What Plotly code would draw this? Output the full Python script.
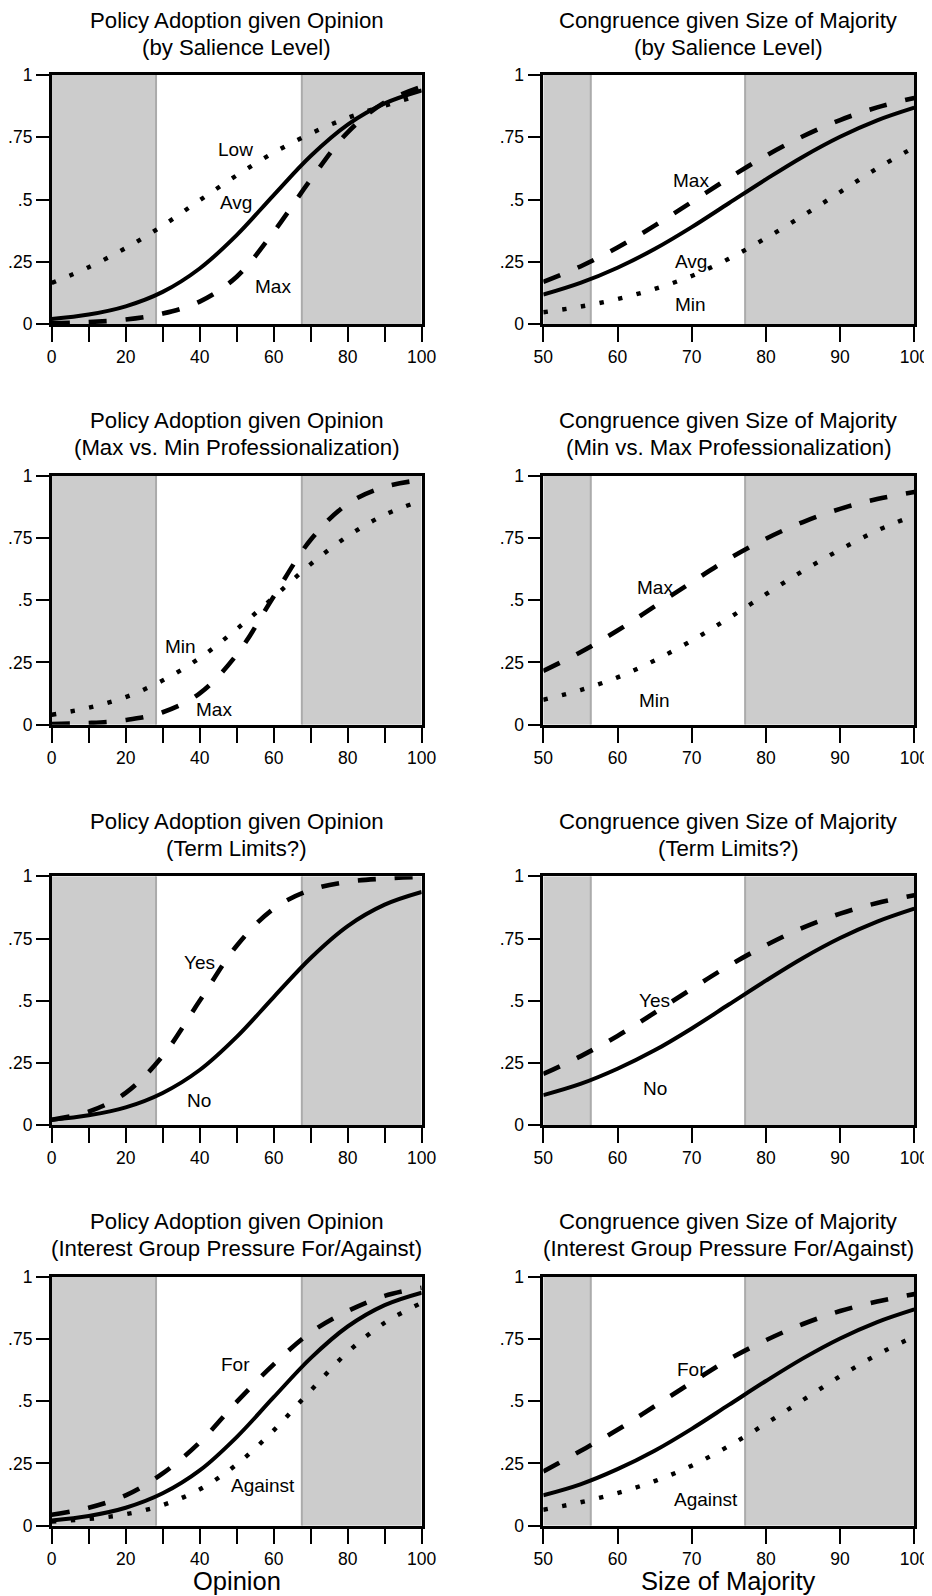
import plotly.graph_objects as go
from plotly.subplots import make_subplots

# ---------------- data ----------------
opinion_x = [0, 10, 20, 30, 40, 50, 60, 70, 80, 90, 100]
majority_x = [50, 55, 60, 65, 70, 75, 80, 85, 90, 95, 100]

# Panel 1: Policy adoption by salience
p1_avg = [0.020, 0.038, 0.071, 0.129, 0.223, 0.357, 0.518, 0.675, 0.801, 0.886, 0.938]
p1_low = [0.165, 0.228, 0.305, 0.395, 0.497, 0.597, 0.688, 0.765, 0.828, 0.877, 0.920]
p1_max = [0.003, 0.008, 0.018, 0.042, 0.090, 0.190, 0.370, 0.580, 0.770, 0.890, 0.953]

# Panel 2: Congruence by salience
p2_avg = [0.118, 0.165, 0.226, 0.301, 0.389, 0.485, 0.581, 0.672, 0.752, 0.818, 0.869]
p2_max = [0.169, 0.231, 0.307, 0.395, 0.490, 0.586, 0.676, 0.754, 0.819, 0.870, 0.908]
p2_min = [0.047, 0.070, 0.100, 0.141, 0.193, 0.262, 0.345, 0.435, 0.530, 0.625, 0.710]

# Panel 3: Policy adoption, professionalization
p3_max = [0.003, 0.007, 0.019, 0.050, 0.126, 0.281, 0.515, 0.743, 0.887, 0.955, 0.983]
p3_min = [0.040, 0.068, 0.111, 0.178, 0.268, 0.384, 0.512, 0.645, 0.757, 0.843, 0.900]

# Panel 4: Congruence, professionalization
p4_max = [0.216, 0.291, 0.378, 0.475, 0.572, 0.666, 0.747, 0.814, 0.867, 0.906, 0.935]
p4_min = [0.100, 0.139, 0.190, 0.258, 0.338, 0.428, 0.524, 0.618, 0.703, 0.780, 0.840]

# Panel 5: Policy adoption, term limits
p5_no = [0.022, 0.040, 0.072, 0.130, 0.222, 0.355, 0.515, 0.672, 0.800, 0.886, 0.937]
p5_yes = [0.022, 0.055, 0.130, 0.279, 0.500, 0.721, 0.870, 0.945, 0.978, 0.991, 0.997]

# Panel 6: Congruence, term limits
p6_no = [0.121, 0.166, 0.227, 0.301, 0.389, 0.485, 0.581, 0.672, 0.752, 0.818, 0.870]
p6_yes = [0.206, 0.277, 0.359, 0.452, 0.548, 0.641, 0.723, 0.794, 0.850, 0.893, 0.924]

# Panel 7: Policy adoption, interest groups
p7_mid = [0.021, 0.039, 0.072, 0.130, 0.222, 0.356, 0.516, 0.673, 0.800, 0.886, 0.936]
p7_for = [0.044, 0.072, 0.122, 0.210, 0.335, 0.497, 0.648, 0.776, 0.862, 0.923, 0.956]
p7_against = [0.017, 0.027, 0.046, 0.083, 0.146, 0.246, 0.383, 0.543, 0.697, 0.815, 0.895]

# Panel 8: Congruence, interest groups
p8_mid = [0.122, 0.166, 0.227, 0.301, 0.389, 0.485, 0.581, 0.672, 0.752, 0.818, 0.869]
p8_for = [0.218, 0.300, 0.385, 0.480, 0.575, 0.668, 0.745, 0.810, 0.862, 0.900, 0.930]
p8_against = [0.064, 0.094, 0.131, 0.179, 0.241, 0.320, 0.410, 0.505, 0.600, 0.687, 0.760]

# shaded (gray) regions
opinion_shade = [(0, 28.2), (67.6, 100)]
majority_shade = [(50, 56.4), (77.2, 100)]

left_titles = ["Policy Adoption given Opinion"] * 4
left_subtitles = ["(by Salience Level)", "(Max vs. Min Professionalization)",
                  "(Term Limits?)", "(Interest Group Pressure For/Against)"]
right_titles = ["Congruence given Size of Majority"] * 4
right_subtitles = ["(by Salience Level)", "(Min vs. Max Professionalization)",
                   "(Term Limits?)", "(Interest Group Pressure For/Against)"]

opinion_ticks = [0, 10, 20, 30, 40, 50, 60, 70, 80, 90, 100]
opinion_ticktext = ["0", "", "20", "", "40", "", "60", "", "80", "", "100"]
majority_ticks = [50, 60, 70, 80, 90, 100]
majority_ticktext = ["50", "60", "70", "80", "90", "100"]
y_ticks = [0, 0.25, 0.5, 0.75, 1]
y_ticktext = ["0", ".25", ".5", ".75", "1"]

# (panel index, x-data, y-data, style)
series = [
    (1, opinion_x, p1_low, "dot"), (1, opinion_x, p1_avg, "solid"), (1, opinion_x, p1_max, "dash"),
    (2, majority_x, p2_min, "dot"), (2, majority_x, p2_avg, "solid"), (2, majority_x, p2_max, "dash"),
    (3, opinion_x, p3_min, "dot"), (3, opinion_x, p3_max, "dash"),
    (4, majority_x, p4_min, "dot"), (4, majority_x, p4_max, "dash"),
    (5, opinion_x, p5_no, "solid"), (5, opinion_x, p5_yes, "dash"),
    (6, majority_x, p6_no, "solid"), (6, majority_x, p6_yes, "dash"),
    (7, opinion_x, p7_against, "dot"), (7, opinion_x, p7_mid, "solid"), (7, opinion_x, p7_for, "dash"),
    (8, majority_x, p8_against, "dot"), (8, majority_x, p8_mid, "solid"), (8, majority_x, p8_for, "dash"),
]

# curve labels: (panel, text, x, y)
curve_labels = [
    (1, "Low", 49.8, 0.70), (1, "Avg", 49.8, 0.486), (1, "Max", 59.9, 0.15),
    (2, "Max", 69.9, 0.577), (2, "Avg", 69.9, 0.252), (2, "Min", 69.9, 0.078),
    (3, "Min", 34.9, 0.316), (3, "Max", 43.9, 0.06),
    (4, "Max", 65.0, 0.55), (4, "Min", 65.0, 0.098),
    (5, "Yes", 39.9, 0.652), (5, "No", 39.9, 0.099),
    (6, "Yes", 65.0, 0.502), (6, "No", 65.0, 0.146),
    (7, "For", 49.8, 0.648), (7, "Against", 57.0, 0.16),
    (8, "For", 70.0, 0.626), (8, "Against", 71.9, 0.104),
]

# ---------------- layout geometry (figure pixels; page adds an 8px body margin) ----------------
W, H = 932, 1596
col_px = [(43.7, 413.7), (535.3, 906.3)]
row_top_px = [67.0, 467.7, 868.3, 1268.7]
plot_h_px = 249.0
FONT = "Liberation Sans, Arial, Helvetica, sans-serif"

fig = make_subplots(rows=4, cols=2)

styles = {
    "solid": dict(color="black", width=4.0),
    "dash": dict(color="black", width=4.6, dash="18px,19px"),
    "dot": dict(color="black", width=4.4, dash="4.4px,14.6px"),
}

for panel, xs, ys, st in series:
    r = (panel - 1) // 2 + 1
    c = (panel - 1) % 2 + 1
    fig.add_trace(go.Scatter(x=xs, y=ys, mode="lines", line=dict(shape="spline", **styles[st]),
                             showlegend=False, hoverinfo="skip"), row=r, col=c)

annotations = []
shapes = []
for i in range(8):
    r = i // 2
    c = i % 2
    ax_n = "" if i == 0 else str(i + 1)
    xa = "xaxis" + ax_n
    ya = "yaxis" + ax_n
    x0p, x1p = col_px[c]
    top = row_top_px[r]
    bot = top + plot_h_px
    xdom = [x0p / W, x1p / W]
    ydom = [1 - bot / H, 1 - top / H]
    is_op = (c == 0)
    fig.layout[xa].update(
        domain=xdom, range=[0, 100] if is_op else [50, 100], autorange=False, automargin=False,
        tickmode="array", tickvals=opinion_ticks if is_op else majority_ticks,
        ticktext=opinion_ticktext if is_op else majority_ticktext,
        ticks="outside", ticklen=15, tickwidth=2.2, tickcolor="black",
        showline=True, linecolor="black", linewidth=2.6, mirror=True,
        showgrid=False, zeroline=False,
        tickfont=dict(family=FONT, size=17.5, color="black"),
    )
    fig.layout[ya].update(
        domain=ydom, range=[0, 1], autorange=False, automargin=False,
        tickmode="array", tickvals=y_ticks, ticktext=y_ticktext,
        ticks="outside", ticklen=13, tickwidth=2.2, tickcolor="black",
        showline=True, linecolor="black", linewidth=2.6, mirror=True,
        showgrid=False, zeroline=False,
        tickfont=dict(family=FONT, size=17.5, color="black"),
    )
    xref = "x" + ax_n
    yref = "y" + ax_n
    shade = opinion_shade if is_op else majority_shade
    for (a, b) in shade:
        shapes.append(dict(type="rect", xref=xref, yref=yref, x0=a, x1=b, y0=0, y1=1,
                           fillcolor="#cccccc", line=dict(width=0), layer="below"))
    for xv in (shade[0][1], shade[1][0]):
        shapes.append(dict(type="line", xref=xref, yref=yref, x0=xv, x1=xv, y0=0, y1=1,
                           line=dict(color="#ababab", width=2), layer="below"))
    # titles
    cx = (x0p + x1p) / 2 / W
    t1 = left_titles[r] if is_op else right_titles[r]
    t2 = left_subtitles[r] if is_op else right_subtitles[r]
    annotations.append(dict(text=t1, xref="paper", yref="paper", x=cx, y=1 - (top - 54.8) / H,
                            xanchor="center", yanchor="middle", showarrow=False,
                            font=dict(family=FONT, size=22.2, color="black")))
    annotations.append(dict(text=t2, xref="paper", yref="paper", x=cx, y=1 - (top - 27.9) / H,
                            xanchor="center", yanchor="middle", showarrow=False,
                            font=dict(family=FONT, size=22.2, color="black")))
    if r == 3:
        annotations.append(dict(text="Opinion" if is_op else "Size of Majority",
                                xref="paper", yref="paper", x=cx, y=1 - (bot + 55.0) / H,
                                xanchor="center", yanchor="middle", showarrow=False,
                                font=dict(family=FONT, size=25.5, color="black")))

for panel, txt, xv, yv in curve_labels:
    ax_n = "" if panel == 1 else str(panel)
    annotations.append(dict(text=txt, xref="x" + ax_n, yref="y" + ax_n, x=xv, y=yv,
                            xanchor="center", yanchor="middle", showarrow=False,
                            font=dict(family=FONT, size=19, color="black")))

fig.update_layout(
    width=W, height=H, margin=dict(l=0, r=0, t=0, b=0, pad=0),
    paper_bgcolor="white", plot_bgcolor="white",
    shapes=shapes, annotations=annotations, showlegend=False,
    font=dict(family=FONT, color="black"),
)

fig.write_html("out.html")
